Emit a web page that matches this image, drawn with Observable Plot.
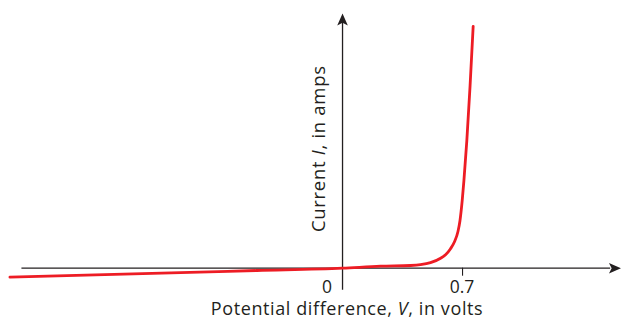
<!DOCTYPE html>
<html>
<head>
<meta charset="utf-8">
<script src="https://cdn.jsdelivr.net/npm/d3@7"></script>
<script src="https://cdn.jsdelivr.net/npm/@observablehq/plot@0.6"></script>
<style>
  html, body { margin: 0; padding: 0; background: #fff; }
  #chart { width: 622px; height: 320px; }
</style>
</head>
<body>
<div id="chart"></div>
<script>
// Diode I–V characteristic (current in arbitrary units)
const voltage = [-1.94, -1.0, -0.5, 0, 0.222, 0.397, 0.455, 0.513, 0.572, 0.601, 0.630, 0.653, 0.673, 0.685, 0.698, 0.708, 0.725, 0.744, 0.762];
const current = [-9, -4.6, -2.3, 0, 2, 2.7, 3.5, 5.5, 10, 13.5, 19.5, 26.5, 36.5, 47.5, 67.5, 87.5, 127.5, 182.5, 241.8];

const xTicks = [0, 0.7];
const xTickLabels = ["0", "0.7"];
const xLabel = "Potential difference, V, in volts";
const yLabel = "Current I, in amps";

// axis extents (data units)
const xAxisExtent = [-1.87, 1.624];
const yAxisExtent = [-22, 254.7];

const curve = voltage.map((v, i) => ({V: v, I: current[i]}));
const ink = "#231f20";
const red = "#ed1c24";

const arrowHead = {
  draw(ctx) {
    ctx.moveTo(0, 0);
    ctx.lineTo(5.3, 12);
    ctx.lineTo(0, 9.3);
    ctx.lineTo(-5.3, 12);
    ctx.closePath();
  }
};

const fs = 18.5;

const plot = Plot.plot({
  width: 622,
  height: 320,
  margin: 0,
  x: {domain: [-1.995, 1.633], axis: null},
  y: {domain: [-52.3, 267.7], axis: null},
  style: {fontFamily: "'Open Sans', sans-serif", fontSize: fs + "px", background: "#fff", color: ink},
  marks: [
    // x axis line
    Plot.ruleY([0], {x1: xAxisExtent[0], x2: xAxisExtent[1] - 0.06, stroke: ink, strokeWidth: 1.3}),
    Plot.dot([{x: xAxisExtent[1], y: 0}], {x: "x", y: "y", symbol: arrowHead, rotate: 90, fill: ink, stroke: "none"}),
    // y axis line
    Plot.ruleX([0], {y1: yAxisExtent[0], y2: yAxisExtent[1] - 9, stroke: ink, strokeWidth: 1.3}),
    Plot.dot([{x: 0, y: yAxisExtent[1]}], {x: "x", y: "y", symbol: arrowHead, fill: ink, stroke: "none"}),
    // tick at 0.7
    Plot.ruleX([xTicks[1]], {y1: 0, y2: -8, stroke: ink, strokeWidth: 1.1}),
    // tick labels
    Plot.text([xTicks[0]], {x: d => d, y: 0, text: () => xTickLabels[0], dx: -15.5, dy: 12.5, lineAnchor: "top", textAnchor: "middle", fontSize: 17.5, fill: ink}),
    Plot.text([xTicks[1]], {x: d => d, y: 0, text: () => xTickLabels[1], dx: -0.5, dy: 12.5, lineAnchor: "top", textAnchor: "middle", fontSize: 17.5, fill: ink}),
    // axis titles
    Plot.text([xLabel], {x: 0, y: 0, text: d => d, dx: 4.5, dy: 34, lineAnchor: "top", textAnchor: "middle", fontSize: 18, fill: ink}),
    Plot.text([yLabel], {x: 0, y: 119.5, text: d => d, rotate: -90, dx: -23, lineAnchor: "middle", textAnchor: "middle", fontSize: fs, fill: ink}),
    // characteristic curve
    Plot.line(curve, {x: "V", y: "I", stroke: red, strokeWidth: 2.8, curve: "monotone-x"})
  ]
});

// italicise the quantity symbols and match the wider type of the original
d3.select(plot).selectAll("text").each(function() {
  const t = this.textContent;
  let parts = null;
  if (t === xLabel) parts = ["Potential difference, ", "V", ", in volts"];
  else if (t === yLabel) parts = ["Current ", "I", ", in amps"];
  if (!parts) return;
  const el = d3.select(this);
  el.text(null).attr("letter-spacing", t === xLabel ? "0.6px" : "0.7px");
  parts.forEach((p, i) => el.append("tspan").attr("font-style", i === 1 ? "italic" : null).text(p));
});

document.getElementById("chart").appendChild(plot);
</script>
</body>
</html>
